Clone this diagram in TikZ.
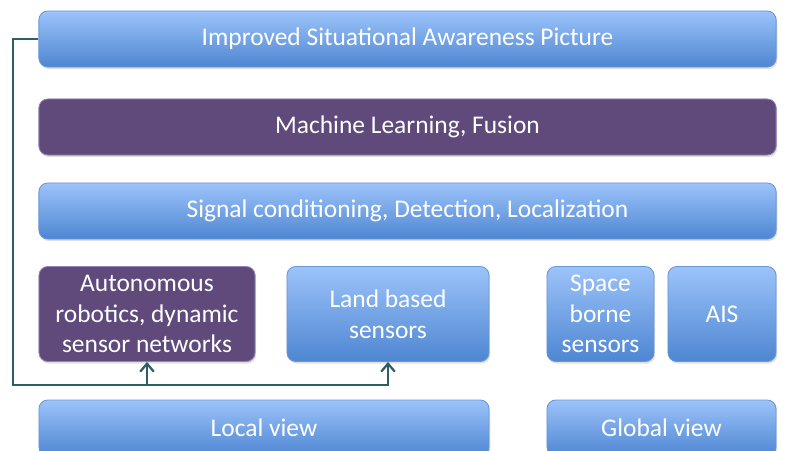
\documentclass[tikz,border=0pt]{standalone}
\usepackage{fontspec}
\setmainfont{Carlito}
\usetikzlibrary{arrows.meta,shadows}
\definecolor{bluetop}{HTML}{9CC3FA}
\definecolor{bluebot}{HTML}{4E86D2}
\definecolor{blueedge}{HTML}{6A96D4}
\definecolor{purfill}{HTML}{5F4A7B}
\definecolor{puredge}{HTML}{8E86B6}
\definecolor{linkcol}{HTML}{2E5E66}
\tikzset{
  box/.style={rounded corners=0.22cm, draw=blueedge, line width=0.6pt, top color=bluetop, bottom color=bluebot, text=white, align=center, inner sep=0pt, font=\fontsize{18.1}{21.8}\selectfont, drop shadow={opacity=0.25, shadow xshift=0.03cm, shadow yshift=-0.05cm}},
  pbox/.style={box, fill=purfill, top color=purfill, bottom color=purfill, draw=puredge},
  wide/.style={minimum width=18.425cm, minimum height=1.4cm},
  tall/.style={minimum height=2.375cm},
  link/.style={draw=linkcol, line width=1.6pt},
  arr/.style={link, -{Straight Barb[length=2mm, width=3.4mm, line width=1.6pt]}},
}
\begin{document}
\begin{tikzpicture}[x=0.025cm,y=-0.025cm]
  \useasboundingbox (0,0) rectangle (798,450);
  % top rows
  \node[box, wide] (sitaw) at (407.5,39) {Improved Situational Awareness Picture};
  \node[pbox, wide] (mlfus) at (407.5,127) {Machine Learning, Fusion};
  \node[box, wide] (sigcond) at (407.5,211) {Signal conditioning, Detection, Localization};
  % sensor row
  \node[pbox, tall, minimum width=5.4cm] (auton) at (147,314) {Autonomous\\robotics, dynamic\\sensor networks};
  \node[box, tall, minimum width=5.05cm] (land) at (388,314) {Land based\\sensors};
  \node[box, tall, minimum width=2.675cm] (space) at (600.5,314) {Space\\borne\\sensors};
  \node[box, tall, minimum width=2.7cm] (ais) at (722,314) {AIS};
  % views
  \node[box, minimum width=11.25cm, minimum height=1.4cm] (local) at (264,428) {Local view};
  \node[box, minimum width=5.725cm, minimum height=1.4cm] (global) at (661.5,428) {Global view};
  % feedback link
  \coordinate (jn) at (13,385);
  \draw[arr] (sitaw.west) -| (jn) -| (land.south);
  \draw[arr] (auton.south |- jn) -- (auton.south);
\end{tikzpicture}
\end{document}
